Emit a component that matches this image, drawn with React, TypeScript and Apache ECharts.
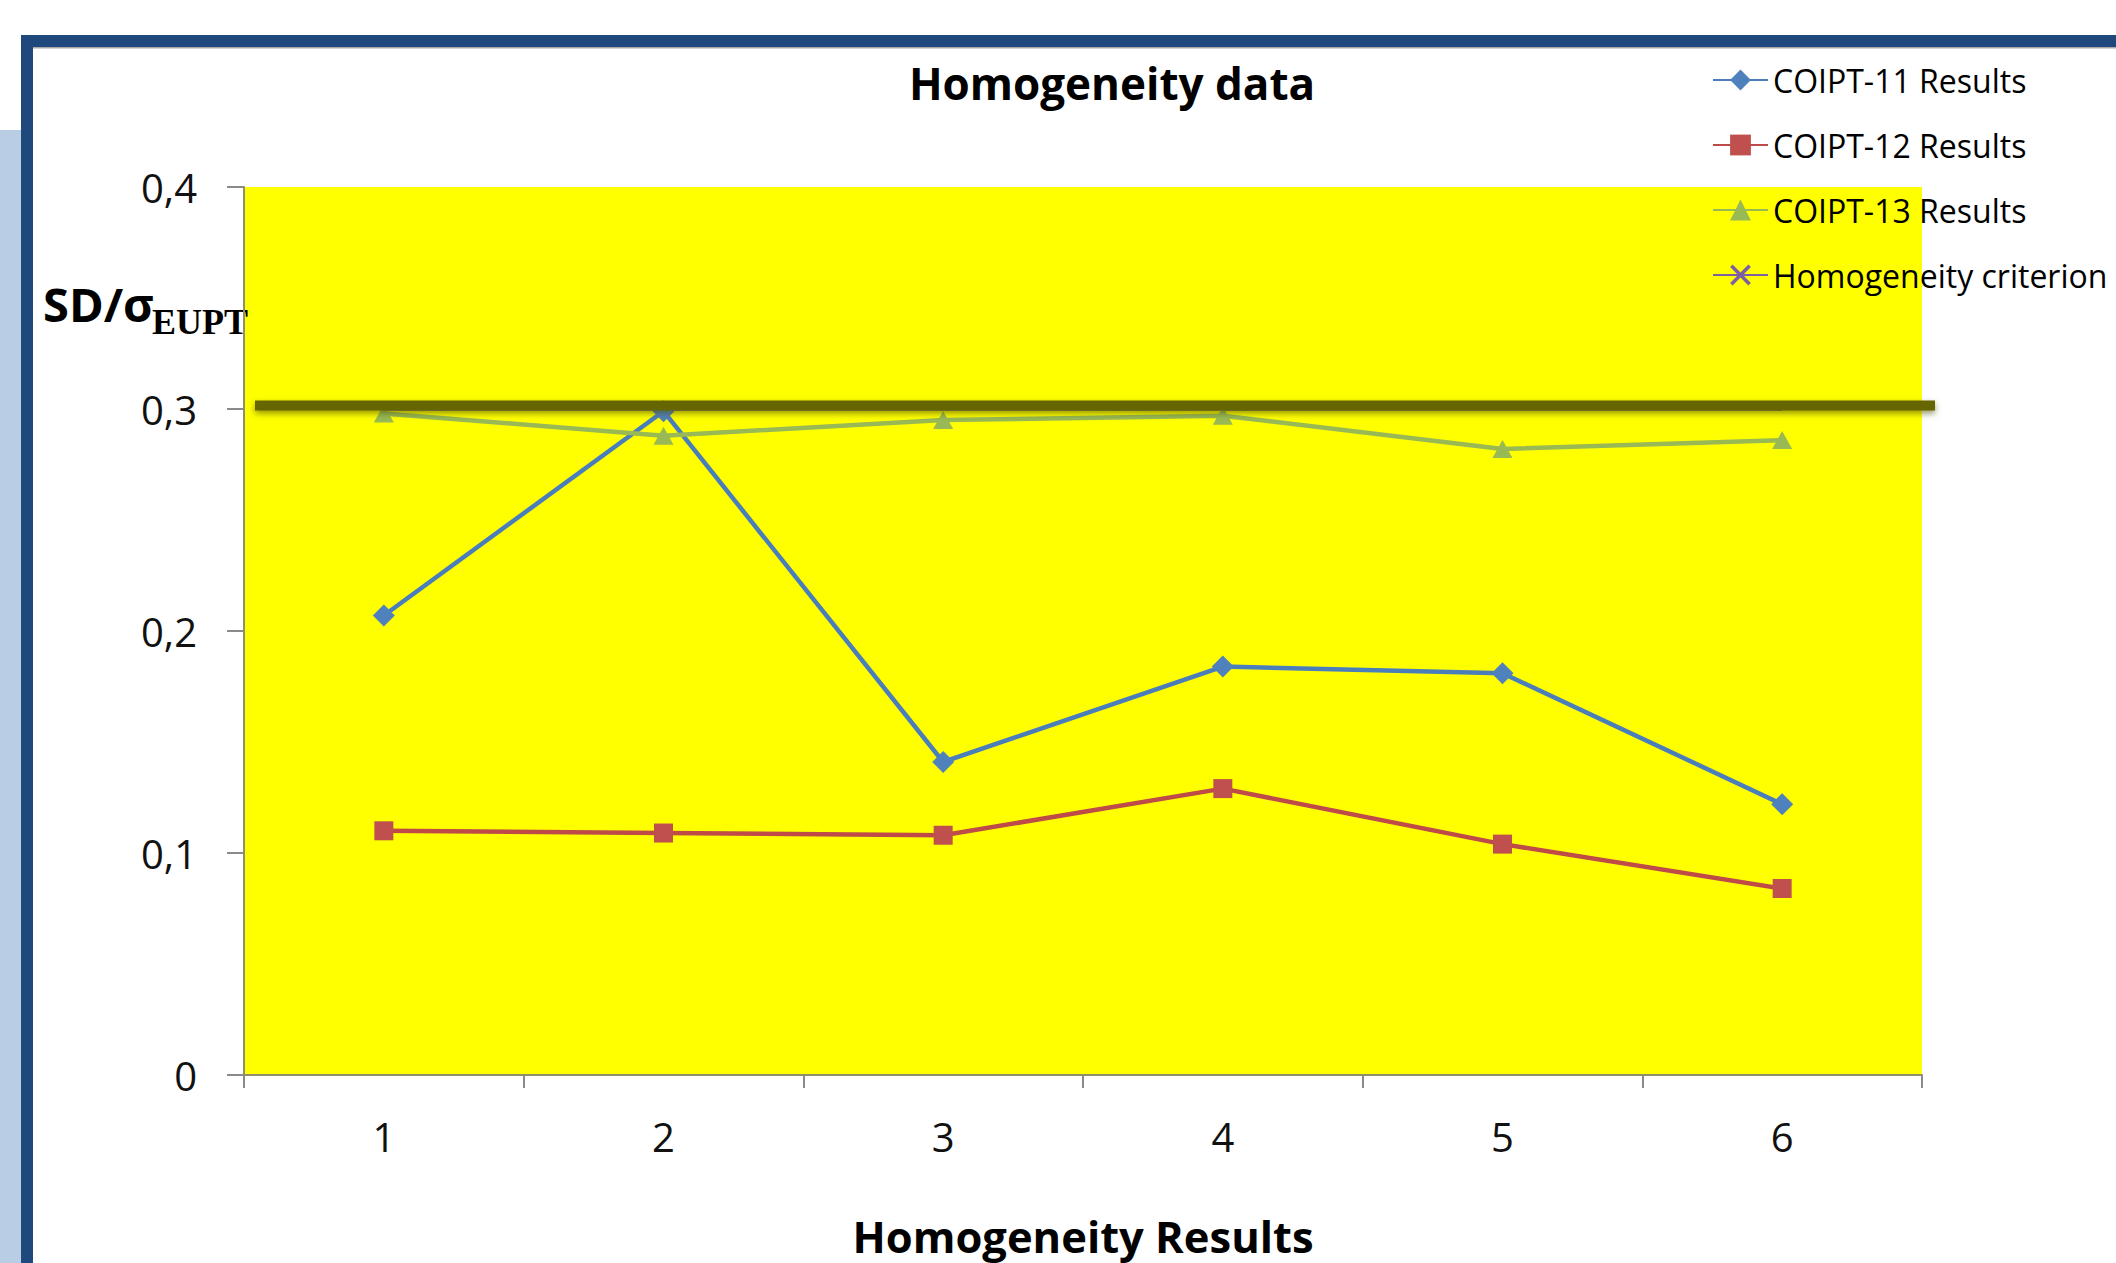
import React, { useEffect, useRef } from "react";
import * as echarts from "echarts";

const categories = ["1", "2", "3", "4", "5", "6"];
const coipt11 = [0.207, 0.299, 0.141, 0.184, 0.181, 0.122];
const coipt12 = [0.11, 0.109, 0.108, 0.129, 0.104, 0.084];
const coipt13 = [0.298, 0.288, 0.295, 0.297, 0.282, 0.286];
const criterion = [0.3, 0.3, 0.3, 0.3, 0.3, 0.3];
const criterionLineValue = 0.302;
const yTickLabels = ["0", "0,1", "0,2", "0,3", "0,4"];
const seriesNames = [
  "COIPT-11 Results",
  "COIPT-12 Results",
  "COIPT-13 Results",
  "Homogeneity criterion",
];

const X_SYMBOL =
  "path://M0,1.2L1.2,0L5,3.8L8.8,0L10,1.2L6.2,5L10,8.8L8.8,10L5,6.2L1.2,10L0,8.8L3.8,5Z";

export default function App() {
  const ref = useRef<HTMLDivElement>(null);

  useEffect(() => {
    document.body.style.margin = "0";
    const chart = echarts.init(ref.current!, null, { renderer: "svg" });
    const font = "'Open Sans', sans-serif";
    const baseGraphics: any[] = [
      { type: "rect", shape: { x: 0, y: 130, width: 21, height: 1133 }, style: { fill: "#b9cde5" } },
      { type: "rect", shape: { x: 21, y: 35, width: 2095, height: 12 }, style: { fill: "#1f497d" } },
      { type: "rect", shape: { x: 21, y: 35, width: 12, height: 1228 }, style: { fill: "#1f497d" } },
      { type: "rect", shape: { x: 33, y: 47, width: 2083, height: 1.5 }, style: { fill: "#a8a8a8" } },
      {
        type: "text",
        x: 1112,
        y: 83,
        style: {
          text: "Homogeneity data",
          fontFamily: font,
          fontSize: 44,
          fontWeight: "bold",
          fill: "#000",
          align: "center",
          verticalAlign: "middle",
        },
      },
      {
        type: "text",
        x: 43,
        y: 304,
        style: {
          text: "SD/σ",
          fontFamily: font,
          fontSize: 47,
          fontWeight: "bold",
          fill: "#000",
          align: "left",
          verticalAlign: "middle",
        },
      },
      {
        type: "text",
        x: 152,
        y: 322,
        style: {
          text: "EUPT",
          fontFamily: "'Liberation Serif', serif",
          fontSize: 36,
          fontWeight: "bold",
          fill: "#000",
          align: "left",
          verticalAlign: "middle",
        },
      },
    ];
    const option: any = {
      animation: false,
      backgroundColor: "#ffffff",
      textStyle: { fontFamily: font },
      grid: {
        left: 244,
        right: 194,
        top: 187,
        bottom: 172,
        show: true,
        backgroundColor: "#ffff00",
        borderWidth: 0,
      },
      legend: {
        orient: "vertical",
        left: 1707,
        top: 59,
        itemWidth: 55,
        itemHeight: 26,
        itemGap: 33,
        selectedMode: false,
        textStyle: { fontFamily: font, fontSize: 32, color: "#000", lineHeight: 32 },
        data: seriesNames,
      },
      xAxis: {
        type: "category",
        data: categories,
        boundaryGap: true,
        name: "Homogeneity Results",
        nameLocation: "middle",
        nameGap: 161,
        nameTextStyle: {
          fontFamily: font,
          fontSize: 43.5,
          fontWeight: "bold",
          color: "#000",
          verticalAlign: "middle",
        },
        axisLine: { lineStyle: { color: "#8f8f6f", width: 2 } },
        axisTick: { show: true, length: 13, lineStyle: { color: "#8a8a8a", width: 2 } },
        axisLabel: { fontFamily: font, fontSize: 40, color: "#111", margin: 41 },
        splitLine: { show: false },
      },
      yAxis: {
        type: "value",
        min: 0,
        max: 0.4,
        interval: 0.1,
        axisLine: { show: true, lineStyle: { color: "#8f8f6f", width: 2 } },
        axisTick: { show: true, length: 17, lineStyle: { color: "#8a8a8a", width: 2 } },
        axisLabel: {
          fontFamily: font,
          fontSize: 40,
          color: "#111",
          margin: 47,
          formatter: (v: number, i: number) => yTickLabels[i] ?? String(v),
        },
        splitLine: { show: false },
      },
      graphic: baseGraphics,
      series: [
        {
          name: seriesNames[3],
          type: "line",
          data: criterion,
          z: 1,
          symbol: X_SYMBOL,
          symbolSize: 18,
          showSymbol: false,
          itemStyle: { color: "#7d60a0" },
          lineStyle: { color: "#7d60a0", width: 3.5 },
        },
        {
          name: seriesNames[0],
          type: "line",
          data: coipt11,
          symbol: "diamond",
          symbolSize: 22,
          itemStyle: { color: "#4f81bd" },
          lineStyle: { color: "#4a7ebb", width: 4.5 },
        },
        {
          name: seriesNames[1],
          type: "line",
          data: coipt12,
          symbol: "rect",
          symbolSize: 19,
          itemStyle: { color: "#c0504d" },
          lineStyle: { color: "#be4b48", width: 4.5 },
        },
        {
          name: seriesNames[2],
          type: "line",
          data: coipt13,
          symbol: "triangle",
          symbolSize: [20, 18],
          itemStyle: { color: "#98b954" },
          lineStyle: { color: "#98b954", width: 4.5 },
        },
      ],
    };
    chart.setOption(option);

    // Thick drawn criterion bar, positioned through the y axis scale
    const yPx = chart.convertToPixel({ yAxisIndex: 0 }, criterionLineValue) as number;
    const thickBar = {
      type: "rect",
      z: 100,
      shape: { x: 255, y: yPx - 4, width: 1680, height: 10 },
      style: {
        fill: "#666600",
        shadowColor: "rgba(80,80,0,0.6)",
        shadowBlur: 6,
        shadowOffsetY: 3,
      },
    };
    chart.setOption({ graphic: [...baseGraphics, thickBar] });

    return () => chart.dispose();
  }, []);

  return <div ref={ref} style={{ width: 2116, height: 1263 }} />;
}
